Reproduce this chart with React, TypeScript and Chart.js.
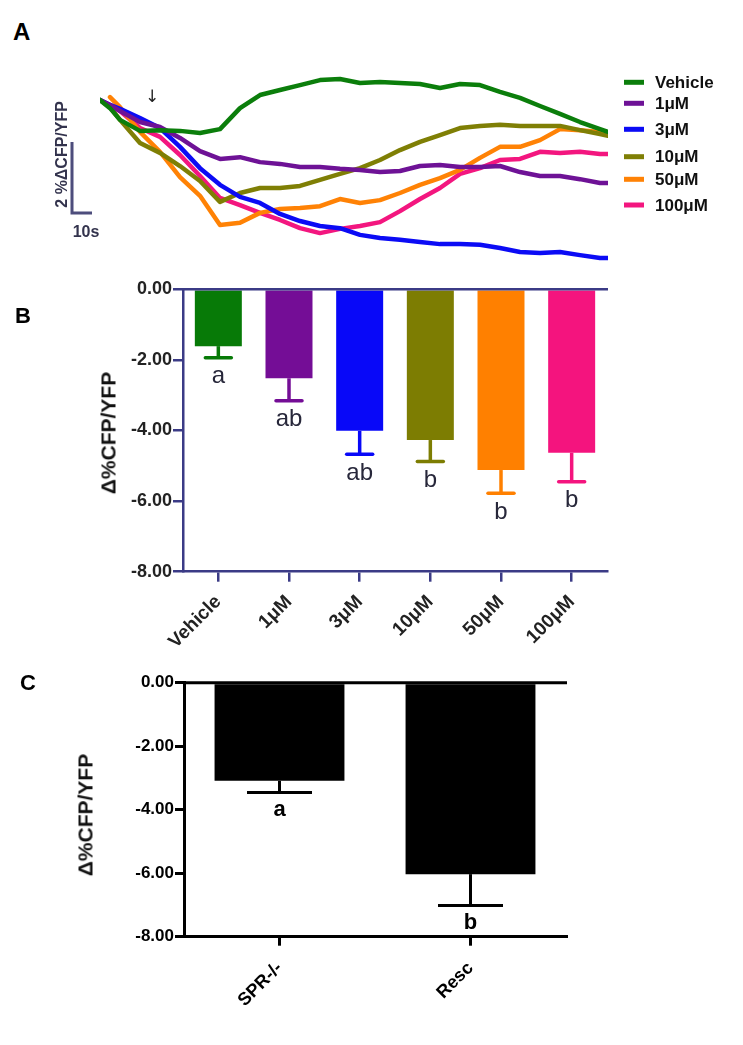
import React, { useEffect, useRef } from "react";
import { Chart, registerables } from "chart.js";

Chart.register(...registerables);

const SANS = "'Liberation Sans', Arial, Helvetica, sans-serif";
Chart.defaults.font.family = SANS;

// ---------- Panel A: time traces (% ΔCFP/YFP, relative to start) ----------
const timeSec = [0, 5, 10, 20, 30, 40, 50, 60, 70, 80, 90, 100, 110, 120, 130, 140, 150, 160, 170, 180, 190, 200, 210, 220, 230, 240, 250, 254];
const traceVehicle = [0, -0.23, -0.56, -0.87, -0.85, -0.87, -0.93, -0.82, -0.23, 0.14, 0.28, 0.42, 0.56, 0.59, 0.48, 0.51, 0.48, 0.45, 0.34, 0.45, 0.42, 0.23, 0.06, -0.17, -0.39, -0.62, -0.82, -0.9];
const trace1uM = [0, -0.14, -0.31, -0.62, -0.76, -1.07, -1.44, -1.66, -1.61, -1.75, -1.8, -1.89, -1.89, -1.94, -1.97, -2.03, -2.0, -1.86, -1.83, -1.89, -1.89, -1.86, -2.03, -2.14, -2.14, -2.23, -2.34, -2.34];
const trace3uM = [0, -0.14, -0.25, -0.51, -0.79, -1.32, -1.92, -2.39, -2.73, -2.9, -3.21, -3.41, -3.55, -3.61, -3.8, -3.89, -3.94, -4.0, -4.06, -4.06, -4.08, -4.17, -4.28, -4.31, -4.28, -4.37, -4.45, -4.45];
const trace10uM = [0, -0.2, -0.56, -1.21, -1.49, -1.86, -2.28, -2.87, -2.62, -2.48, -2.48, -2.42, -2.25, -2.08, -1.92, -1.69, -1.41, -1.18, -0.99, -0.79, -0.73, -0.7, -0.73, -0.73, -0.73, -0.85, -0.96, -1.01];
const trace50uM = [null, 0.08, -0.2, -0.9, -1.46, -2.17, -2.7, -3.52, -3.46, -3.18, -3.07, -3.04, -2.99, -2.79, -2.9, -2.82, -2.62, -2.39, -2.2, -1.97, -1.63, -1.32, -1.32, -1.13, -0.82, -0.85, -0.9, -0.96];
const trace100uM = [0, -0.14, -0.31, -0.79, -1.04, -1.55, -2.14, -2.76, -2.96, -3.18, -3.38, -3.61, -3.75, -3.63, -3.55, -3.44, -3.13, -2.79, -2.48, -2.08, -1.92, -1.69, -1.66, -1.46, -1.49, -1.46, -1.52, -1.52];
const traceLabels = ["Vehicle", "1\u03bcM", "3\u03bcM", "10\u03bcM", "50\u03bcM", "100\u03bcM"];
const traceColors = ["#0b7e0b", "#6e1296", "#0b0bf5", "#7f7f05", "#ff8205", "#f3167f"];
const traces = [traceVehicle, trace1uM, trace3uM, trace10uM, trace50uM, trace100uM];

// ---------- Panel B: dose response ----------
const doseCategories = ["Vehicle", "1\u03bcM", "3\u03bcM", "10\u03bcM", "50\u03bcM", "100\u03bcM"];
const doseMeans = [-1.61, -2.52, -4.01, -4.27, -5.12, -4.63];
const doseSem = [0.33, 0.64, 0.66, 0.61, 0.66, 0.82];
const doseLetters = ["a", "ab", "ab", "b", "b", "b"];
const doseColors = ["#077a07", "#740d96", "#0808f8", "#7d7d02", "#ff8000", "#f4147e"];

// ---------- Panel C: rescue ----------
const rescueCategories = ["SPR-/-", "Resc"];
const rescueMeans = [-3.09, -6.03];
const rescueSem = [0.37, 0.99];
const rescueLetters = ["a", "b"];

const axisMin = -8;
const axisMax = 0;
const axisStep = 2;

const B_AXIS = "#3b3b86";

// ---------- plugins ----------
const traceDecor = {
  id: "traceDecor",
  afterDraw(chart: any) {
    const { ctx, scales } = chart;
    const x = scales.x;
    const y = scales.y;
    ctx.save();
    // scale bar: 2 % and 10 s
    const xb = x.getPixelForValue(-14);
    const xr = x.getPixelForValue(-14 + 10);
    const yb = y.getPixelForValue(-3.18);
    const yt = y.getPixelForValue(-3.18 + 2);
    ctx.strokeStyle = "#4d4d7c";
    ctx.lineWidth = 3;
    ctx.lineCap = "butt";
    ctx.beginPath();
    ctx.moveTo(xb, yt);
    ctx.lineTo(xb, yb);
    ctx.lineTo(xr, yb);
    ctx.stroke();
    ctx.fillStyle = "#33334d";
    ctx.font = `bold 16px ${SANS}`;
    ctx.textAlign = "center";
    ctx.textBaseline = "middle";
    ctx.save();
    ctx.translate(xb - 9, (yt + yb) / 2 - 23);
    ctx.rotate(-Math.PI / 2);
    ctx.fillText("2 %\u0394CFP/YFP", 0, 0);
    ctx.restore();
    ctx.fillText("10s", xb + 14, yb + 20);
    // arrow marking addition
    ctx.fillStyle = "#222";
    ctx.font = `17px 'DejaVu Sans', sans-serif`;
    ctx.fillText("\u2193", x.getPixelForValue(26), y.getPixelForValue(0.03) - 1);
    // legend
    const legendY = [22.3, 43.3, 69.3, 96.7, 119.3, 145];
    ctx.font = `bold 17px ${SANS}`;
    ctx.textAlign = "left";
    chart.data.datasets.forEach((ds: any, i: number) => {
      const ly = legendY[i];
      ctx.strokeStyle = ds.borderColor;
      ctx.lineWidth = 5;
      ctx.beginPath();
      ctx.moveTo(624, ly);
      ctx.lineTo(644, ly);
      ctx.stroke();
      ctx.fillStyle = "#111";
      ctx.fillText(ds.label, 655, ly + 1);
    });
    ctx.restore();
  },
};

const errBars = {
  id: "errBars",
  afterDatasetsDraw(chart: any, _a: any, opts: any) {
    const { ctx, scales, chartArea } = chart;
    const y = scales.y;
    const ds = chart.data.datasets[0];
    const meta = chart.getDatasetMeta(0);
    ctx.save();
    const y0 = y.getPixelForValue(0);
    ctx.strokeStyle = opts.axisColor;
    ctx.lineWidth = opts.axisWidth;
    ctx.beginPath();
    ctx.moveTo(chartArea.left, y0);
    ctx.lineTo(chartArea.right + 1, y0);
    ctx.stroke();
    meta.data.forEach((bar: any, i: number) => {
      const mean = ds.data[i];
      const yEnd = y.getPixelForValue(mean - opts.sem[i]);
      const col = Array.isArray(ds.backgroundColor) ? ds.backgroundColor[i] : ds.backgroundColor;
      ctx.strokeStyle = col;
      ctx.lineWidth = opts.lineWidth;
      ctx.lineCap = "butt";
      ctx.beginPath();
      ctx.moveTo(bar.x, bar.y);
      ctx.lineTo(bar.x, yEnd);
      ctx.stroke();
      ctx.lineCap = opts.capStyle;
      ctx.beginPath();
      ctx.moveTo(bar.x - opts.capWidth / 2, yEnd);
      ctx.lineTo(bar.x + opts.capWidth / 2, yEnd);
      ctx.stroke();
      ctx.fillStyle = opts.letterColor;
      ctx.font = opts.letterFont;
      ctx.textAlign = "center";
      ctx.textBaseline = "middle";
      ctx.fillText(opts.letters[i], bar.x, yEnd + opts.letterGap);
    });
    ctx.restore();
  },
};

function makeTraceChart(c: HTMLCanvasElement) {
  return new Chart(c, {
    type: "line",
    data: {
      datasets: traces.map((d, i) => ({
        label: traceLabels[i],
        data: d.map((v, j) => ({ x: timeSec[j], y: v })),
        borderColor: traceColors[i],
        backgroundColor: traceColors[i],
        borderWidth: 4.5,
        pointRadius: 0,
        borderJoinStyle: "round",
        borderCapStyle: "round",
        tension: 0,
        fill: false,
      })),
    } as any,
    options: {
      animation: false,
      responsive: false,
      events: [],
      layout: { padding: { left: 100, right: 135, top: 10, bottom: 5 } },
      scales: {
        x: { type: "linear", display: false, min: 0, max: 254 },
        y: { display: false, min: -4.789, max: 0.845 },
      },
      plugins: { legend: { display: false }, tooltip: { enabled: false } },
    } as any,
    plugins: [traceDecor],
  });
}

function barOptions(p: {
  axisColor: string;
  axisWidth: number;
  tickColor: string;
  yFont: number;
  xFont: number;
  xPad: number;
  yWidth: number;
  xHeight: number;
  top: number;
  right: number;
  tickLen: number;
  err: any;
}) {
  return {
    animation: false,
    responsive: false,
    events: [],
    layout: { padding: { top: p.top, right: p.right, left: 0, bottom: 0 } },
    scales: {
      x: {
        grid: {
          display: true,
          drawOnChartArea: false,
          offset: false,
          tickLength: p.tickLen,
          color: p.axisColor,
          lineWidth: p.axisWidth,
        },
        border: { color: p.axisColor, width: p.axisWidth },
        ticks: {
          font: { size: p.xFont, weight: "bold" },
          color: p.tickColor,
          minRotation: 45,
          maxRotation: 45,
          padding: p.xPad,
        },
        afterFit: (s: any) => {
          s.height = p.xHeight;
        },
      },
      y: {
        min: axisMin,
        max: axisMax,
        grid: {
          display: true,
          drawOnChartArea: false,
          tickLength: p.tickLen,
          color: p.axisColor,
          lineWidth: p.axisWidth,
        },
        border: { color: p.axisColor, width: p.axisWidth },
        ticks: {
          stepSize: axisStep,
          font: { size: p.yFont, weight: "bold" },
          color: p.tickColor,
          padding: 1,
          callback: (v: any) => Number(v).toFixed(2),
        },
        afterFit: (s: any) => {
          s.width = p.yWidth;
        },
      },
    },
    plugins: { legend: { display: false }, tooltip: { enabled: false }, errBars: p.err },
  } as any;
}

function makeDoseChart(c: HTMLCanvasElement) {
  return new Chart(c, {
    type: "bar",
    data: {
      labels: doseCategories,
      datasets: [
        {
          data: doseMeans,
          backgroundColor: doseColors,
          borderWidth: 0,
          barPercentage: 0.665,
          categoryPercentage: 1,
        },
      ],
    },
    options: barOptions({
      axisColor: B_AXIS,
      axisWidth: 2.5,
      tickColor: "#222",
      yFont: 18,
      xFont: 19,
      xPad: 9,
      yWidth: 183,
      xHeight: 98.3,
      top: 19.3,
      right: 136,
      tickLen: 10,
      err: {
        sem: doseSem,
        letters: doseLetters,
        capWidth: 26,
        lineWidth: 3.5,
        capStyle: "round",
        letterGap: 19,
        letterFont: `24px ${SANS}`,
        letterColor: "#27273a",
        axisColor: B_AXIS,
        axisWidth: 2.5,
      },
    }),
    plugins: [errBars],
  });
}

function makeRescueChart(c: HTMLCanvasElement) {
  return new Chart(c, {
    type: "bar",
    data: {
      labels: rescueCategories,
      datasets: [
        {
          data: rescueMeans,
          backgroundColor: "#000",
          borderWidth: 0,
          barPercentage: 0.68,
          categoryPercentage: 1,
        },
      ],
    },
    options: barOptions({
      axisColor: "#000",
      axisWidth: 3,
      tickColor: "#000",
      yFont: 17,
      xFont: 18,
      xPad: 12,
      yWidth: 184,
      xHeight: 108.3,
      top: 22.7,
      right: 177,
      tickLen: 9,
      err: {
        sem: rescueSem,
        letters: rescueLetters,
        capWidth: 65,
        lineWidth: 3,
        capStyle: "butt",
        letterGap: 17,
        letterFont: `bold 22px ${SANS}`,
        letterColor: "#000",
        axisColor: "#000",
        axisWidth: 3,
      },
    }),
    plugins: [errBars],
  });
}

function ChartBox(props: { left: number; top: number; width: number; height: number; make: (c: HTMLCanvasElement) => Chart }) {
  const ref = useRef<HTMLCanvasElement>(null);
  useEffect(() => {
    const ch = props.make(ref.current as HTMLCanvasElement);
    return () => ch.destroy();
  }, []);
  return (
    <canvas
      ref={ref}
      width={props.width}
      height={props.height}
      style={{ position: "absolute", left: props.left, top: props.top, width: props.width, height: props.height }}
    />
  );
}

function Text(props: { x: number; y: number; size: number; children: React.ReactNode; rotate?: boolean }) {
  const style: React.CSSProperties = props.rotate
    ? {
        position: "absolute",
        left: props.x,
        top: props.y,
        transform: "translate(-50%, -50%) rotate(-90deg)",
        font: `bold ${props.size}px ${SANS}`,
        whiteSpace: "nowrap",
        lineHeight: 1,
        color: "#111",
      }
    : {
        position: "absolute",
        left: props.x,
        top: props.y,
        font: `bold ${props.size}px ${SANS}`,
        lineHeight: 1,
        whiteSpace: "nowrap",
        color: "#000",
      };
  return <div style={style}>{props.children}</div>;
}

export default function App() {
  return (
    <div style={{ position: "absolute", left: 0, top: 0, width: 743, height: 1045, background: "#fff", overflow: "hidden" }}>
      <ChartBox left={0} top={60} width={743} height={215} make={makeTraceChart} />
      <ChartBox left={0} top={270} width={743} height={400} make={makeDoseChart} />
      <ChartBox left={0} top={660} width={743} height={385} make={makeRescueChart} />
      <Text x={13} y={20} size={24}>A</Text>
      <Text x={15} y={305} size={22}>B</Text>
      <Text x={20} y={672} size={22}>C</Text>
      <Text x={108} y={433} size={21} rotate>{"\u0394%CFP/YFP"}</Text>
      <Text x={85} y={815} size={21} rotate>{"\u0394%CFP/YFP"}</Text>
    </div>
  );
}
